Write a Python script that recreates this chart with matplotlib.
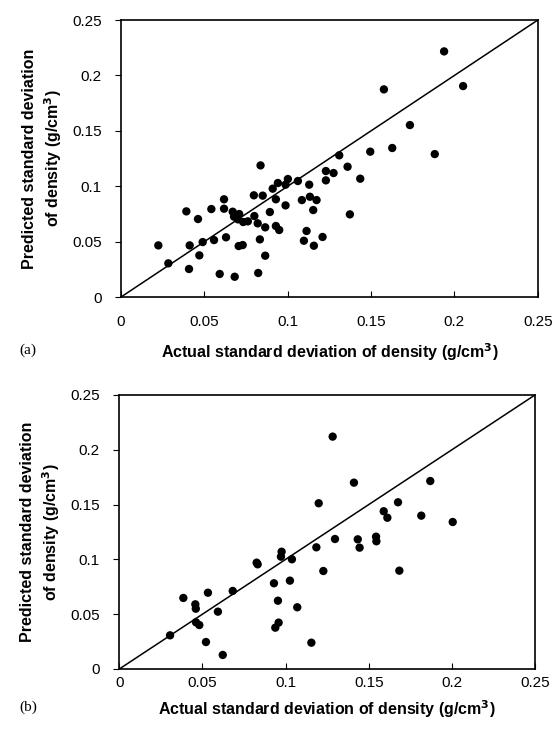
import matplotlib
matplotlib.use("Agg")
import matplotlib.pyplot as plt
import numpy as np

plt.rcParams['font.family'] = ['Liberation Sans', 'DejaVu Sans']

# panel (a): actual vs predicted std of density (g/cm3)
actual_a = [0.0224, 0.0284, 0.0408, 0.0412, 0.0392, 0.047, 0.0462, 0.049, 0.0542, 0.0558,
            0.0592, 0.0618, 0.0618, 0.063, 0.067, 0.0682, 0.0678, 0.0709, 0.0702, 0.0706,
            0.073, 0.0733, 0.0761, 0.0797, 0.080, 0.082, 0.0823, 0.0833, 0.0837, 0.085,
            0.0865, 0.0865, 0.0893, 0.091, 0.0929, 0.0929, 0.0949, 0.0941, 0.0987, 0.1001,
            0.0987, 0.1061, 0.1085, 0.1129, 0.1133, 0.1153, 0.1173, 0.1113, 0.1097, 0.1157,
            0.1209, 0.1229, 0.1229, 0.1275, 0.1309, 0.1359, 0.1373, 0.1435, 0.1495, 0.1577,
            0.1627, 0.1733, 0.1882, 0.1938, 0.2052]
pred_a = [0.0466, 0.0304, 0.0253, 0.0466, 0.0773, 0.0376, 0.0704, 0.0496, 0.0794, 0.0514,
          0.0208, 0.0882, 0.0797, 0.0539, 0.077, 0.0183, 0.0725, 0.0749, 0.0701, 0.046,
          0.0469, 0.0677, 0.0683, 0.0918, 0.0731, 0.0665, 0.0217, 0.052, 0.1188, 0.0915,
          0.0629, 0.0373, 0.0767, 0.0978, 0.0882, 0.0641, 0.0605, 0.1029, 0.1014, 0.1065,
          0.0827, 0.1047, 0.0875, 0.1014, 0.0905, 0.0785, 0.0875, 0.0596, 0.0508, 0.0463,
          0.0542, 0.1137, 0.1053, 0.1119, 0.1279, 0.1176, 0.0746, 0.1068, 0.1312, 0.1874,
          0.1345, 0.1552, 0.129, 0.2217, 0.1904]

# panel (b)
actual_b = [0.0305, 0.0385, 0.0457, 0.046, 0.0461, 0.0481, 0.0521, 0.0533, 0.0593, 0.0622,
            0.0682, 0.0826, 0.0832, 0.093, 0.0954, 0.0938, 0.0958, 0.0976, 0.0972, 0.1026,
            0.1038, 0.107, 0.1155, 0.1185, 0.1199, 0.1227, 0.1283, 0.1297, 0.1411, 0.1434,
            0.1445, 0.1544, 0.1546, 0.159, 0.1612, 0.1676, 0.1684, 0.1816, 0.187, 0.2005]
pred_b = [0.0307, 0.0648, 0.059, 0.055, 0.0426, 0.0401, 0.0246, 0.0696, 0.0523, 0.0128,
          0.0712, 0.097, 0.0955, 0.0782, 0.0623, 0.0377, 0.0423, 0.107, 0.1025, 0.0806,
          0.1001, 0.0563, 0.024, 0.111, 0.1512, 0.0894, 0.212, 0.1186, 0.17, 0.1183,
          0.1107, 0.1207, 0.1165, 0.1439, 0.138, 0.1521, 0.0897, 0.1399, 0.1715, 0.1341]

ticks = [0, 0.05, 0.1, 0.15, 0.2, 0.25]
tick_labels = ['0', '0.05', '0.1', '0.15', '0.2', '0.25']
xlabel = 'Actual standard deviation of density (g/cm$^\\mathbf{3}$)'
ylabel = 'Predicted standard deviation\nof density (g/cm$^\\mathbf{3}$)'

fig = plt.figure(figsize=(5.55, 7.42), dpi=100)

# rect, x, y, tag, x tick pad, x label pad, tag y (fig coords)
panels = [
    ([0.218, 0.5997, 0.751, 0.3733], actual_a, pred_a, '(a)', 13, 9, 0.528),
    ([0.215, 0.0984, 0.749, 0.3693], actual_b, pred_b, '(b)', 5, 6, 0.047),
]

for rect, xs, ys, tag, xpad, xlpad, tag_y in panels:
    ax = fig.add_axes(rect)
    ax.plot([0, 0.25], [0, 0.25], color='black', lw=1.1)
    ax.scatter(xs, ys, s=36, color='black', zorder=3, edgecolors='none')
    ax.set_xlim(0, 0.25)
    ax.set_ylim(0, 0.25)
    ax.set_xticks(ticks)
    ax.set_xticklabels(tick_labels, fontsize=11)
    ax.set_yticks(ticks)
    ax.set_yticklabels(tick_labels, fontsize=11)
    ax.tick_params(axis='x', direction='in', length=4, pad=xpad)
    ax.tick_params(axis='y', direction='out', length=4, pad=10)
    for sp in ax.spines.values():
        sp.set_linewidth(1.2)
    ax.set_xlabel(xlabel, fontsize=11.5, fontweight='bold', labelpad=xlpad)
    ax.set_ylabel(ylabel, fontsize=11.5, fontweight='bold', labelpad=6,
                  linespacing=1.3)
    fig.text(0.035, tag_y, tag, fontsize=11,
             family=['Liberation Serif', 'DejaVu Serif'], va='center')

fig.savefig('out.png', dpi=100)
